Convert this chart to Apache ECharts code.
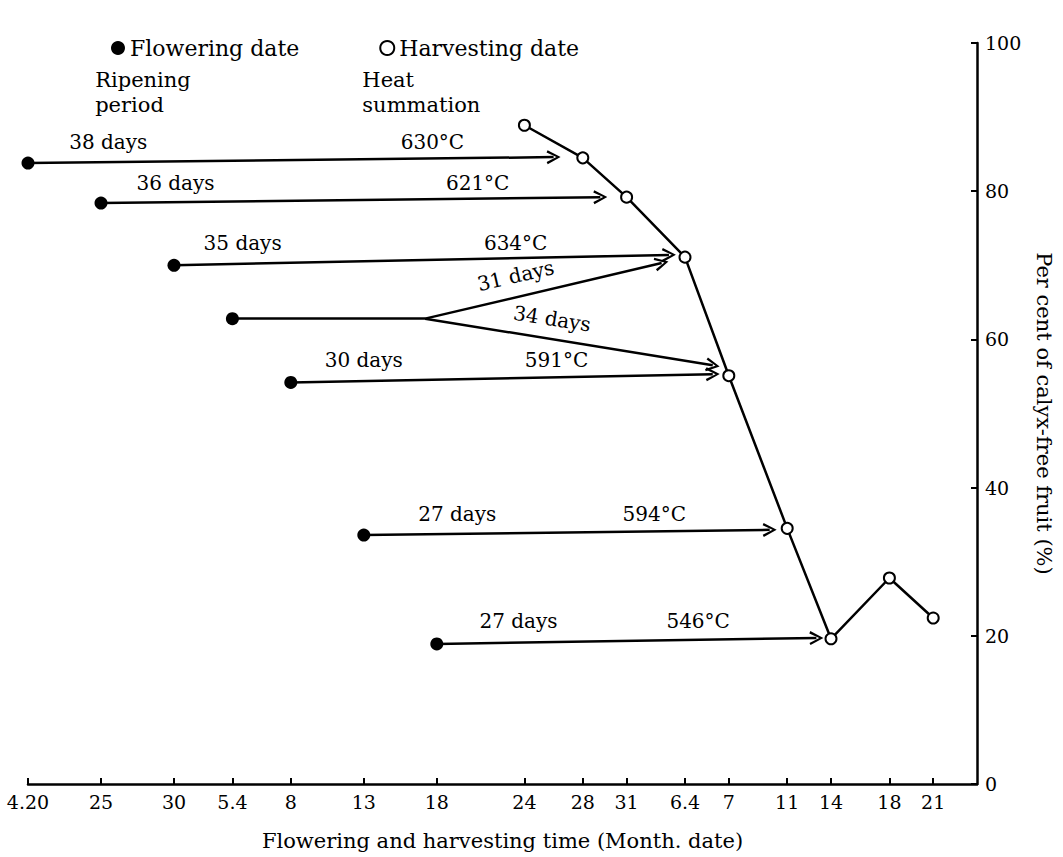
<!DOCTYPE html>
<html><head><meta charset="utf-8">
<script src="https://cdn.jsdelivr.net/npm/echarts@6/dist/echarts.min.js"></script>
<style>html,body{margin:0;padding:0;background:#fff}#c{width:1063px;height:857px}</style>
</head><body><div id="c"></div><script>
// x values are days counted from April 20 (4.20 = 0)
const tickDays   = [0, 5, 10, 14, 18, 23, 28, 34, 38, 41, 45, 48, 52, 55, 59, 62];
const tickLabels = ['4.20','25','30','5.4','8','13','18','24','28','31','6.4','7','11','14','18','21'];

const flowerDay = [0, 5, 10, 14, 18, 23, 28];
const flowerPct = [83.8, 78.4, 70.0, 62.8, 54.2, 33.6, 18.9];

const harvestDay = [34, 38, 41, 45, 48, 52, 55, 59, 62];
const harvestPct = [88.9, 84.5, 79.2, 71.1, 55.1, 34.5, 19.6, 27.8, 22.4];

// arrows (flowering -> harvest)
const arrowFromDay = [0, 5, 10, 27.2, 27.2, 18, 23, 28];
const arrowFromPct = [83.8, 78.4, 70.0, 62.8, 62.8, 54.2, 33.6, 18.9];
const arrowToDay   = [36.0, 39.2, 43.9, 43.4, 46.9, 46.9, 50.8, 54.0];
const arrowToPct   = [84.6, 79.2, 71.4, 70.3, 56.5, 55.3, 34.3, 19.7];
// stem of the branching arrow
const stemFromDay = [14], stemToDay = [27.2], stemPct = [62.8];

// ripening period labels
const periodText = ['38 days','36 days','35 days','31 days','34 days','30 days','27 days','27 days'];
const periodDay  = [5.5, 10.1, 14.7, 33.4, 35.9, 23.0, 29.4, 33.6];
const periodPct  = [86.6, 81.1, 73.0, 68.6, 62.8, 57.2, 36.5, 22.0];
const periodRot  = [0, 0, 0, 13, -9, 0, 0, 0];
// heat summation labels
const heatText = ['630°C','621°C','634°C','591°C','594°C','546°C'];
const heatDay  = [27.7, 30.8, 33.4, 36.2, 42.9, 45.9];
const heatPct  = [86.6, 81.1, 73.0, 57.2, 36.5, 22.0];
// column headings
const headText = ['Ripening\nperiod', 'Heat\nsummation'];
const headDay  = [4.6, 22.9];
const headPct  = [93.3, 93.3];

const FONT = 'DejaVu Serif';
const chevron = 'path://M5,0 L10,10 L8.4,10.8 L5,3.2 L1.6,10.8 L0,10 Z';

const arrowData = arrowFromDay.map((d, i) => ({coords: [[d, arrowFromPct[i]], [arrowToDay[i], arrowToPct[i]]]}));
const stemData = stemFromDay.map((d, i) => ({coords: [[d, stemPct[i]], [stemToDay[i], stemPct[i]]]}));

const annot = [];
periodText.forEach((t, i) => annot.push({name: t, value: [periodDay[i], periodPct[i]], label: {rotate: periodRot[i]}}));
heatText.forEach((t, i) => annot.push({name: t, value: [heatDay[i], heatPct[i]]}));
const heads = headText.map((t, i) => ({name: t, value: [headDay[i], headPct[i]]}));

const chart = echarts.init(document.getElementById('c'), null, {renderer: 'svg'});
chart.setOption({
  backgroundColor: '#fff',
  animation: false,
  textStyle: {fontFamily: FONT, color: '#000'},
  grid: {left: 28, right: 86, top: 43, bottom: 73},
  legend: {
    left: 106, top: 32, itemGap: 80, itemWidth: 14, itemHeight: 14,
    textStyle: {fontFamily: FONT, fontSize: 22, color: '#000'},
    data: [
      {name: 'Flowering date', icon: 'circle', itemStyle: {color: '#000', opacity: 1}},
      {name: 'Harvesting date', icon: 'emptyCircle', itemStyle: {color: '#000', borderColor: '#000', borderWidth: 2.5}}
    ]
  },
  xAxis: {
    type: 'value', min: 0, max: 65,
    name: 'Flowering and harvesting time (Month. date)',
    nameLocation: 'middle', nameGap: 46,
    nameTextStyle: {fontFamily: FONT, fontSize: 21, color: '#000'},
    axisLine: {onZero: false, lineStyle: {color: '#000', width: 2.5}},
    axisTick: {inside: true, length: 6, customValues: tickDays, lineStyle: {color: '#000', width: 2}},
    axisLabel: {customValues: tickDays, margin: 8, fontFamily: FONT, fontSize: 19, color: '#000',
      formatter: v => tickLabels[tickDays.indexOf(v)]},
    splitLine: {show: false}
  },
  yAxis: {
    type: 'value', position: 'right', min: 0, max: 100, interval: 20,
    name: 'Per cent of calyx-free fruit (%)',
    nameLocation: 'middle', nameGap: 56, nameRotate: -90,
    nameTextStyle: {fontFamily: FONT, fontSize: 21, color: '#000'},
    axisLine: {show: true, onZero: false, lineStyle: {color: '#000', width: 2.5}},
    axisTick: {show: true, inside: true, length: 6, lineStyle: {color: '#000', width: 2}},
    axisLabel: {margin: 8, fontFamily: FONT, fontSize: 19, color: '#000'},
    splitLine: {show: false}
  },
  series: [
    {
      type: 'lines', coordinateSystem: 'cartesian2d', silent: true,
      symbol: ['none', 'none'],
      lineStyle: {color: '#000', width: 2.5, opacity: 1},
      data: stemData, z: 2
    },
    {
      type: 'lines', coordinateSystem: 'cartesian2d', silent: true,
      symbol: ['none', chevron], symbolSize: [11, 14],
      lineStyle: {color: '#000', width: 2.5, opacity: 1},
      data: arrowData, z: 2
    },
    {
      name: 'Harvesting date', type: 'line',
      data: harvestDay.map((d, i) => [d, harvestPct[i]]),
      symbol: 'emptyCircle', symbolSize: 11, showAllSymbol: true,
      lineStyle: {color: '#000', width: 2.5},
      itemStyle: {color: '#000', borderColor: '#000', borderWidth: 2.5},
      z: 4
    },
    {
      name: 'Flowering date', type: 'scatter',
      data: flowerDay.map((d, i) => [d, flowerPct[i]]),
      symbol: 'circle', symbolSize: 13,
      itemStyle: {color: '#000', opacity: 1}, z: 5
    },
    {
      type: 'scatter', silent: true, symbolSize: 0, z: 6,
      itemStyle: {opacity: 1},
      label: {show: true, position: [0, 0], align: 'center', verticalAlign: 'middle',
        formatter: p => p.name, fontFamily: FONT, fontSize: 20, color: '#000'},
      data: annot
    },
    {
      type: 'scatter', silent: true, symbolSize: 0, z: 6,
      itemStyle: {opacity: 1},
      label: {show: true, position: [0, 0], align: 'left', verticalAlign: 'middle',
        formatter: p => p.name, fontFamily: FONT, fontSize: 21, color: '#000', lineHeight: 25},
      data: heads
    }
  ]
});
</script></body></html>
